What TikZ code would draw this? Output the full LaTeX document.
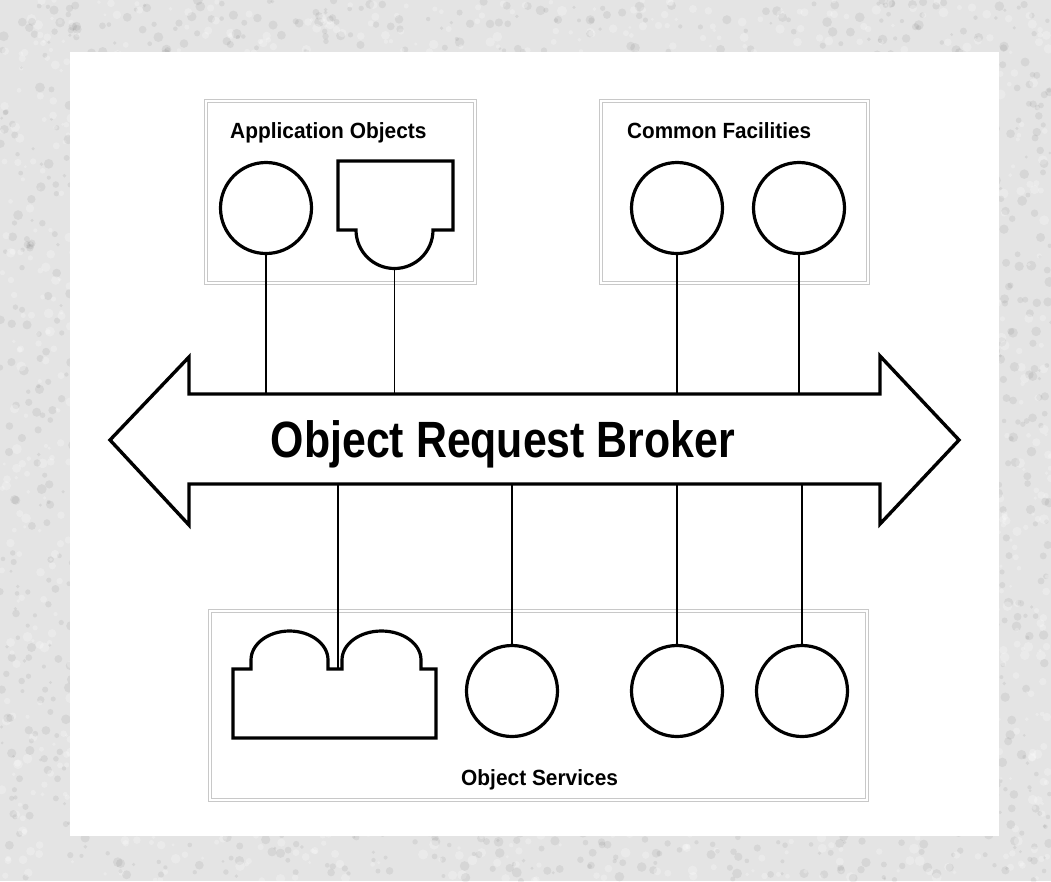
\documentclass[tikz,border=0pt]{standalone}
\usepackage{fontspec}
\setmainfont{Liberation Sans}
\usepackage{graphicx}
\definecolor{paper}{RGB}{228,228,228}
\definecolor{frameline}{RGB}{200,200,200}
\tikzset{
  objcircle/.style={circle, draw=black, line width=3.2pt, fill=white, minimum size=91pt, inner sep=0pt},
  objshape/.style={draw=black, line width=3.2pt, fill=white, line join=miter},
  busarrow/.style={draw=black, line width=3.4pt, fill=white, line join=miter},
  link/.style={draw=black, line width=1.8pt},
  groupbox/.style={draw=frameline, line width=0.8pt, double=white, double distance=1.6pt},
  grouplabel/.style={font=\fontsize{22}{26}\selectfont\bfseries, anchor=base west, inner sep=0pt},
  buslabel/.style={font=\fontsize{51}{60}\selectfont\bfseries, anchor=base, inner sep=0pt}
}
\begin{document}
\begin{tikzpicture}[x=1pt, y=-1pt]
\useasboundingbox (0,0) rectangle (1051,881);
% mottled paper around the sheet
\begin{scope}
  \clip (0,0) rectangle (1051,881);
  \fill[paper] (0,0) rectangle (1051,881);
  \pgfmathsetseed{4242}
  \foreach \i in {1,...,5200}{
    \pgfmathsetmacro\px{rnd*1051}
    \pgfmathsetmacro\py{rnd*881}
    \pgfmathsetmacro\rr{1.5+rnd*3.5}
    \pgfmathtruncatemacro\sh{rnd*100}
    \ifnum\sh<55
      \fill[black, opacity=0.06] (\px,\py) circle (\rr);
    \else
      \fill[white, opacity=0.25] (\px,\py) circle (\rr);
    \fi
  }
\end{scope}
% white sheet
\fill[white] (70,52) rectangle (999,836);

% group frames
\draw[groupbox] (206,101) rectangle (475,283);
\draw[groupbox] (601,101) rectangle (868,283);
\draw[groupbox] (210,611) rectangle (867,800);

\node[grouplabel] (lblApp) at (230,138) {\scalebox{0.95}[1]{Application Objects}};
\node[grouplabel] (lblCF) at (627,138) {\scalebox{0.94}[1]{Common Facilities}};
\node[grouplabel] (lblOS) at (461,785) {\scalebox{0.95}[1]{Object Services}};

% bus edges
\coordinate (busTop) at (0,394);
\coordinate (busBot) at (0,484);

% application objects
\node[objcircle] (app1) at (266,208) {};
\draw[objshape] (338,161) -- (453,161) -- (453,230) -- (433,230)
  arc[start angle=0, end angle=180, radius=38.5] -- (338,230) -- cycle;
\coordinate (app2) at (394.5,268.5);

% common facilities
\node[objcircle] (cf1) at (677,208) {};
\node[objcircle] (cf2) at (799,208) {};

% object services
\draw[objshape] (233,738) -- (233,669) -- (251,669) -- (251,660)
  arc[start angle=180, end angle=360, x radius=38.5, y radius=29]
  -- (328,669) -- (342,669) -- (342,660)
  arc[start angle=180, end angle=360, x radius=39.5, y radius=29]
  -- (421,669) -- (436,669) -- (436,738) -- cycle;
\coordinate (os1) at (338,669);
\node[objcircle] (os2) at (512,691) {};
\node[objcircle] (os3) at (677,691) {};
\node[objcircle] (os4) at (802,691) {};

% links to the bus
\draw[link] (app1.south) -- (app1.south |- busTop);
\draw[link] (app2) -- (app2 |- busTop);
\draw[link] (cf1.south) -- (cf1.south |- busTop);
\draw[link] (cf2.south) -- (cf2.south |- busTop);
\draw[link] (os1) -- (os1 |- busBot);
\draw[link] (os2.north) -- (os2.north |- busBot);
\draw[link] (os3.north) -- (os3.north |- busBot);
\draw[link] (os4.north) -- (os4.north |- busBot);

% double-headed bus arrow
\draw[busarrow] (110,440) -- (189,357) -- (189,394) -- (880,394) -- (880,356)
  -- (959,440) -- (880,524) -- (880,484) -- (189,484) -- (189,525) -- cycle;
\node[buslabel] (orb) at (503,457) {\scalebox{0.84}[1]{Object Request Broker}};
\end{tikzpicture}
\end{document}
